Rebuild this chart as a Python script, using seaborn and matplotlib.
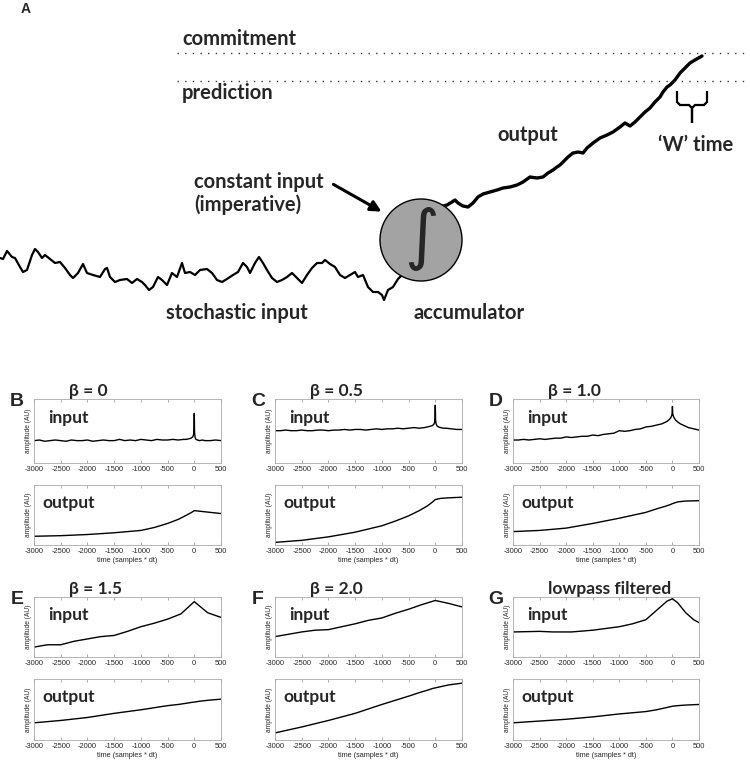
import matplotlib
matplotlib.use('Agg')
import matplotlib.pyplot as plt
import matplotlib.patches as mpatches
from matplotlib.path import Path
import seaborn as sns

# ---------- datos ----------
# panel A: trazas dibujadas (posición horizontal, altura)
estocastica_t = [0, 3, 7, 12, 15, 20, 23, 27, 32, 35, 38, 42, 45, 50, 55, 60, 65, 70, 73, 78,
                 83, 87, 93, 100, 105, 107, 110, 115, 120, 127, 132, 137, 142, 145, 149, 153, 158,
                 162, 167, 172, 177, 182, 185, 190, 195, 200, 207, 212, 217, 222, 227, 233, 238,
                 243, 247, 250, 255, 259, 263, 267, 272, 277, 282, 287, 292, 297, 302, 307, 312,
                 317, 322, 325, 330, 335, 340, 345, 350, 355, 358, 363, 368, 373, 378, 382, 384,
                 388, 393, 398, 405]
estocastica_v = [72, 71, 79, 73, 72, 63, 58, 60, 75, 81, 78, 72, 75, 71, 67, 68, 62, 55, 52, 57,
                 66, 57, 55, 53, 61, 62, 53, 48, 50, 51, 47, 51, 48, 45, 40, 43, 53,
                 50, 45, 57, 53, 67, 57, 58, 55, 60, 61, 57, 50, 48, 51, 55, 58,
                 67, 63, 57, 67, 73, 67, 60, 52, 48, 50, 53, 57, 52, 47, 55, 62,
                 67, 67, 70, 66, 63, 55, 52, 55, 58, 53, 55, 43, 38, 38, 35, 30,
                 40, 43, 51, 58]
salida_t = [440, 447, 452, 455, 458, 463, 468, 473, 478, 483, 490, 497, 503, 510, 517, 523, 530,
            537, 543, 548, 553, 557, 560, 565, 568, 573, 578, 583, 587, 593, 600, 607, 613, 620,
            625, 630, 635, 640, 645, 650, 655, 660, 663, 667, 670, 675, 680, 685, 690, 695, 702]
salida_v = [123, 125, 128, 130, 127, 124, 123, 127, 133, 136, 138, 140, 142, 143, 145, 148, 153,
            152, 153, 157, 160, 163, 165, 170, 173, 177, 178, 177, 182, 187, 192, 195, 198, 203,
            207, 204, 208, 213, 218, 222, 228, 233, 238, 243, 245, 250, 257, 262, 267, 270, 274]
umbral_compromiso = 277
umbral_prediccion = 249

# paneles B-G: tiempo (muestras * dt) y amplitud (AU)
t_ruido = list(range(-3000, -199, 100)) + [-150, -100, -60, -30, -15, -5, 0, 5, 15, 30, 60,
                                            100, 150, 200, 300, 400, 500]
t_suave = [-3000, -2500, -2000, -1500, -1000, -750, -500, -300, -150, -50, 0, 100, 250, 500]
t_cuartos = [-3000, -2750, -2500, -2250, -2000, -1750, -1500, -1250, -1000, -750, -500, -250, 0,
             250, 500]

b_entrada = [0.36, 0.37, 0.35, 0.36, 0.37, 0.36, 0.35, 0.37, 0.36, 0.36, 0.37, 0.35, 0.36, 0.37,
             0.36, 0.36, 0.38, 0.36, 0.37, 0.36, 0.38, 0.37, 0.36, 0.38, 0.37, 0.37, 0.38, 0.37,
             0.38, 0.38, 0.39, 0.40, 0.42, 0.45, 0.55, 0.80, 0.50, 0.41, 0.38, 0.37, 0.36, 0.37,
             0.36, 0.36, 0.37, 0.36]
b_salida = [0.15, 0.16, 0.18, 0.21, 0.25, 0.30, 0.37, 0.44, 0.51, 0.56, 0.59, 0.58, 0.565, 0.54]

c_entrada = [0.52, 0.52, 0.53, 0.52, 0.52, 0.53, 0.52, 0.52, 0.53, 0.53, 0.52, 0.53, 0.53, 0.54,
             0.53, 0.54, 0.54, 0.53, 0.54, 0.55, 0.54, 0.55, 0.55, 0.56, 0.55, 0.56, 0.57, 0.56,
             0.57, 0.58, 0.59, 0.60, 0.62, 0.65, 0.72, 0.93, 0.70, 0.63, 0.60, 0.58, 0.57, 0.56,
             0.56, 0.55, 0.54, 0.54]
c_salida = [0.045, 0.08, 0.14, 0.22, 0.33, 0.41, 0.50, 0.59, 0.67, 0.74, 0.78, 0.80, 0.81, 0.82]

d_entrada = [0.37, 0.37, 0.38, 0.37, 0.38, 0.39, 0.38, 0.39, 0.40, 0.40, 0.42, 0.41, 0.42, 0.43,
             0.43, 0.45, 0.44, 0.46, 0.47, 0.48, 0.52, 0.51, 0.52, 0.54, 0.55, 0.58, 0.59, 0.61,
             0.63, 0.65, 0.67, 0.70, 0.73, 0.76, 0.80, 0.91, 0.80, 0.76, 0.73, 0.69, 0.66, 0.63,
             0.61, 0.57, 0.55, 0.53]
d_salida = [0.23, 0.25, 0.29, 0.37, 0.46, 0.51, 0.56, 0.62, 0.66, 0.69, 0.71, 0.74, 0.755, 0.76]

e_entrada = [0.17, 0.21, 0.21, 0.27, 0.31, 0.35, 0.37, 0.44, 0.52, 0.58, 0.65, 0.74, 0.95, 0.76,
             0.68]
e_salida = [0.29, 0.33, 0.38, 0.45, 0.51, 0.545, 0.58, 0.60, 0.62, 0.635, 0.64, 0.655, 0.67,
            0.69]

f_entrada = [0.35, 0.39, 0.43, 0.46, 0.47, 0.52, 0.57, 0.63, 0.67, 0.75, 0.82, 0.90, 0.97, 0.92,
             0.86]
f_salida = [0.12, 0.22, 0.33, 0.45, 0.60, 0.67, 0.74, 0.80, 0.84, 0.87, 0.88, 0.90, 0.93, 0.96]

g_t_entrada = [-3000, -2500, -2250, -1900, -1500, -1250, -1000, -750, -500, -400, -250, -100, 0,
               100, 250, 400, 500]
g_entrada = [0.43, 0.44, 0.43, 0.43, 0.46, 0.49, 0.52, 0.57, 0.64, 0.72, 0.84, 0.96, 1.0, 0.93,
             0.76, 0.64, 0.59]
g_salida = [0.29, 0.32, 0.35, 0.39, 0.44, 0.46, 0.48, 0.51, 0.54, 0.56, 0.57, 0.58, 0.59, 0.60]

letras = ['B', 'C', 'D', 'E', 'F', 'G']
titulos = ['β = 0', 'β = 0.5', 'β = 1.0', 'β = 1.5', 'β = 2.0', 'lowpass filtered']
ticks_t = list(range(-3000, 501, 500))

# ---------- figura ----------
W, H = 750, 762
sns.set_style('white')
plt.rcParams['font.family'] = ['Lato', 'DejaVu Sans']
plt.rcParams['axes.unicode_minus'] = False
fig = plt.figure(figsize=(W / 100, H / 100), dpi=100)


def rect(izq, arriba, der, abajo):
    return [izq / W, 1 - abajo / H, (der - izq) / W, (abajo - arriba) / H]


def fxy(x, y):
    return x / W, 1 - y / H


# Panel A: esquema del acumulador
ax_a = fig.add_axes(rect(0, 0, W, 330))
ax_a.set_xlim(0, W)
ax_a.set_ylim(0, 330)
ax_a.axis('off')
sns.lineplot(x=estocastica_t, y=estocastica_v, sort=False, estimator=None, color='black',
             lw=1.6, ax=ax_a)
sns.lineplot(x=salida_t, y=salida_v, sort=False, estimator=None, color='black', lw=2.4, ax=ax_a)
for nivel in (umbral_compromiso, umbral_prediccion):
    ax_a.axhline(nivel, xmin=177 / W, xmax=1, color='#333333', lw=1.0, ls=(0, (1, 4.5)))
ax_a.add_patch(mpatches.Circle((421, 90), 41, facecolor='#a3a3a3', edgecolor='black', lw=1.0,
                               zorder=5))
ax_a.text(421, 91, r'$\int$', fontsize=34, ha='center', va='center', zorder=6)
ax_a.annotate('', xy=(384, 117), xytext=(331, 147),
              arrowprops=dict(arrowstyle='-|>', lw=2.2, color='black', mutation_scale=16))
llave = Path([(677, 239), (677, 228), (680, 225), (689, 225), (692, 222), (692, 207),
              (692, 222), (695, 225), (704, 225), (707, 228), (707, 239)])
ax_a.add_patch(mpatches.PathPatch(llave, fill=False, lw=1.6, edgecolor='black'))

txt = dict(fontsize=14.5, fontweight='bold', va='center', ha='left')
ax_a.text(182, 291, 'commitment', **txt)
ax_a.text(182, 237, 'prediction', **txt)
ax_a.text(497, 195, 'output', **txt)
ax_a.text(658, 185, '‘W’ time', **txt)
ax_a.text(194, 148, 'constant input', **txt)
ax_a.text(194, 125, '(imperative)', **txt)
ax_a.text(166, 17, 'stochastic input', **txt)
ax_a.text(413, 17, 'accumulator', **txt)
fig.text(*fxy(26, 9), 'A', fontsize=10, fontweight='bold', family='Liberation Sans',
         ha='center', va='center')

# Paneles B-G
paneles = [
    (t_ruido, b_entrada, t_suave, b_salida),
    (t_ruido, c_entrada, t_suave, c_salida),
    (t_ruido, d_entrada, t_suave, d_salida),
    (t_cuartos, e_entrada, t_suave, e_salida),
    (t_cuartos, f_entrada, t_suave, f_salida),
    (g_t_entrada, g_entrada, t_suave, g_salida),
]
columnas = [(34, 221), (275, 462), (513, 699)]
filas = [(399, 463, 485, 545), (597, 657, 679, 740)]

for i, (te, ve, ts, vs) in enumerate(paneles):
    izq, der = columnas[i % 3]
    a1, b1, a2, b2 = filas[i // 3]
    ax_in = fig.add_axes(rect(izq, a1, der, b1))
    ax_out = fig.add_axes(rect(izq, a2, der, b2))
    sns.lineplot(x=te, y=ve, sort=False, estimator=None, color='black', lw=1.0, ax=ax_in)
    sns.lineplot(x=ts, y=vs, sort=False, estimator=None, color='black', lw=1.0, ax=ax_out)
    for ax, nombre, dx in ((ax_in, 'input', 0.075), (ax_out, 'output', 0.045)):
        ax.set_xlim(-3000, 500)
        ax.set_ylim(0, 1.03)
        ax.set_xticks(ticks_t)
        ax.set_yticks([])
        ax.tick_params(axis='x', direction='in', top=True, bottom=True, length=2, width=0.5,
                       color='#888888', labelsize=5.4, pad=2)
        for lab in ax.get_xticklabels():
            lab.set_family('Liberation Sans')
        for s in ax.spines.values():
            s.set_color('#aaaaaa')
            s.set_linewidth(0.6)
        ax.set_ylabel('amplitude (AU)', fontsize=4.8, labelpad=1.5, family='Liberation Sans')
        ax.set_xlabel('')
        ax.text(dx, 0.70, nombre, transform=ax.transAxes, fontsize=12.5, fontweight='bold',
                va='center', ha='left')
    ax_out.set_xlabel('time (samples * dt)', fontsize=5.2, labelpad=1.5, family='Liberation Sans')
    fig.text(*fxy(izq + 35, a1 - 8), titulos[i], fontsize=12.5, fontweight='bold',
             ha='left', va='center')
    fig.text(*fxy(izq - 17, a1 + 3), letras[i], fontsize=14, fontweight='bold',
             family='Liberation Sans', ha='center', va='center')

fig.savefig('out.png', dpi=100)
